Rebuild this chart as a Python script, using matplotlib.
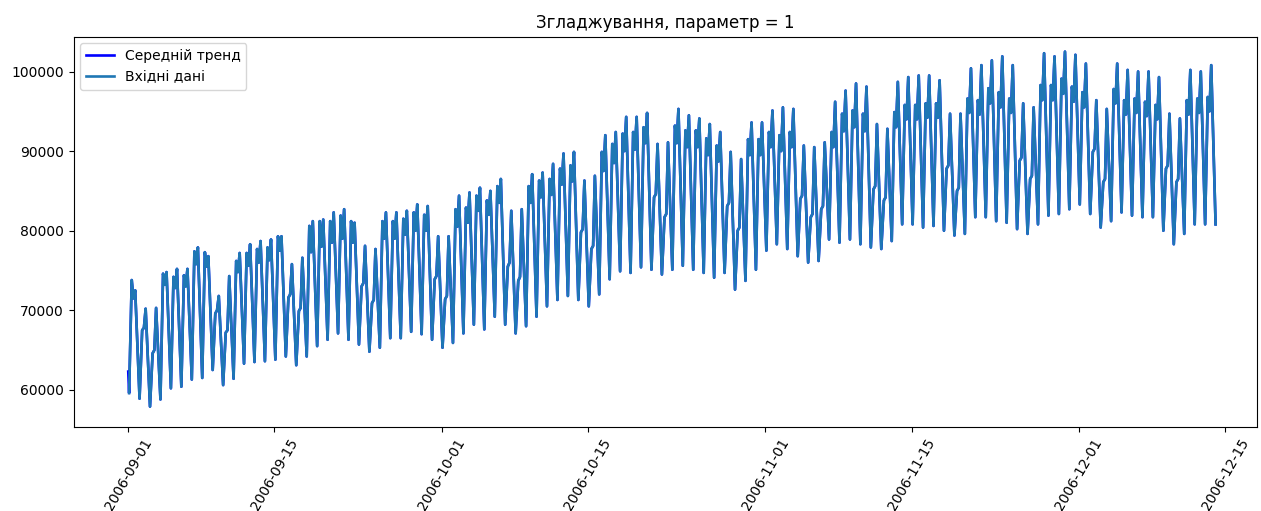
import matplotlib
matplotlib.use("Agg")
import matplotlib.pyplot as plt
import matplotlib.dates as mdates
import pandas as pd

# Load readings, one row per week (Mon..Sun), series starts on Friday 2006-09-01
start = pd.Timestamp("2006-09-01")
first_value = 62300
hours = [2, 8, 12, 16]  # night low, morning, midday, evening peak

night_low = [
    59600, 58900, 57900,
    58800, 60200, 60400, 61300, 61500, 62500, 60600,
    61400, 63300, 63500, 63600, 63800, 64200, 63100,
    64200, 65500, 66300, 67100, 66300, 65700, 64800,
    65300, 66500, 66500, 67300, 67000, 66300, 65300,
    65900, 67100, 68200, 67600, 69200, 68200, 67100,
    68000, 69200, 70500, 71300, 71800, 71300, 70500,
    72000, 73900, 74900, 74700, 75400, 75100, 74500,
    75100, 75600, 75100, 74700, 74100, 74700, 72600,
    73700, 75100, 77500, 78300, 77700, 76800, 76000,
    76200, 78900, 78500, 78900, 78300, 77900, 77700,
    78700, 80800, 80800, 80400, 80600, 80000, 79400,
    79600, 81700, 81700, 81200, 81000, 80200, 79600,
    80800, 81900, 82100, 82700, 83300, 82100, 80400,
    81200, 82300, 81900, 81700, 81700, 80000, 78300,
    79600, 80800, 80800, 80800,
]

morning = [
    73800, 67500, 64600,
    74600, 74200, 74400, 77400, 77300, 69600, 67200,
    76200, 77200, 77700, 77900, 79300, 71600, 69900,
    80600, 81200, 81200, 81900, 81200, 73000, 70900,
    81200, 81200, 81500, 82300, 82000, 73900, 71400,
    82700, 82900, 84400, 83800, 85600, 75500, 73700,
    85600, 86300, 86500, 87800, 88200, 79800, 77700,
    89900, 90900, 92200, 92400, 93000, 84200, 81700,
    93200, 92600, 92600, 91600, 90700, 83100, 80000,
    91500, 91500, 92400, 92000, 92400, 84000, 81700,
    82700, 92400, 94700, 95100, 94700, 85200, 83800,
    94900, 95800, 95800, 96000, 96000, 87800, 85000,
    96600, 96400, 97900, 97400, 96600, 88800, 86500,
    98300, 98300, 99100, 98100, 97400, 89900, 86100,
    97800, 96400, 96600, 96200, 95800, 87800, 86100,
    96400, 96600, 96800,
]

midday = [
    71500, 67800, 65000,
    73200, 72800, 73000, 75800, 75500, 70000, 67500,
    74800, 75600, 76000, 76300, 77500, 72000, 70300,
    77300, 78000, 78500, 79000, 78500, 73400, 71300,
    79000, 79000, 79500, 80000, 80000, 74300, 71800,
    80500, 81000, 82500, 82000, 83500, 76000, 74200,
    83500, 84200, 84500, 85800, 86200, 80200, 78100,
    87500, 88500, 90000, 90200, 91000, 84600, 82100,
    91000, 90500, 90500, 89500, 88700, 83500, 80400,
    89500, 89500, 90500, 90000, 90500, 84400, 82100,
    83100, 90500, 92500, 93000, 92500, 85600, 84200,
    93000, 94000, 94000, 94200, 94200, 88200, 85400,
    94800, 94600, 96000, 95500, 94800, 89200, 86900,
    96400, 96400, 97200, 96200, 95500, 90300, 86500,
    96000, 94600, 94800, 94400, 94000, 88200, 86500,
    94600, 94800, 95000,
]

evening = [
    72500, 70200, 70300,
    74800, 75200, 75200, 77900, 76800, 71800, 74300,
    77200, 78300, 78700, 78900, 79300, 75800, 76600,
    81200, 81400, 82300, 82700, 81000, 78100, 77700,
    82300, 82300, 82500, 83300, 83100, 79300, 79300,
    84400, 84800, 85400, 85000, 86500, 82500, 82700,
    87100, 87300, 88400, 89700, 89900, 86300, 86900,
    92000, 92400, 94300, 94300, 94800, 90900, 91100,
    95300, 94500, 94100, 93400, 92400, 89900, 89000,
    93600, 93600, 95100, 95500, 95300, 90700, 90500,
    91100, 96200, 97600, 98500, 98100, 93400, 92800,
    98700, 99300, 99500, 99500, 98900, 94700, 94700,
    100400, 100800, 101400, 101900, 100800, 96000, 95500,
    102300, 101900, 102500, 102100, 101000, 96400, 95300,
    101000, 100200, 100000, 100000, 99300, 94700, 94100,
    100200, 100000, 100800,
]

# assemble the time series
times = [start]
values = [first_value]
for d in range(len(morning)):
    day = start + pd.Timedelta(days=d)
    for h, v in zip(hours, [night_low[d], morning[d], midday[d], evening[d]]):
        times.append(day + pd.Timedelta(hours=h))
        values.append(v)
times.append(start + pd.Timedelta(days=len(morning), hours=hours[0]))
values.append(night_low[-1])
series = pd.Series(values, index=pd.DatetimeIndex(times))

window = 1
rolling_mean = series.rolling(window=window).mean()

fig = plt.figure(figsize=(12.61, 5.11), dpi=100)
ax = fig.add_axes([73.5 / 1261, 84.5 / 511, 1183 / 1261, 390 / 511])
ax.set_title("Згладжування, параметр = {}".format(window), fontsize=12)
ax.plot(rolling_mean, "b", lw=1.9, label="Середній тренд")
ax.plot(series[window:], lw=1.9, label="Вхідні дані")
ax.legend(loc="upper left")

ax.xaxis.set_major_locator(mdates.DayLocator(bymonthday=[1, 15]))
ax.xaxis.set_major_formatter(mdates.DateFormatter("%Y-%m-%d"))
plt.setp(ax.get_xticklabels(), rotation=60)
ax.set_xlim(start - pd.Timedelta(days=5.24), start + pd.Timedelta(days=108))
ax.set_ylim(55400, 104400)

fig.savefig("out.png", dpi=100)
